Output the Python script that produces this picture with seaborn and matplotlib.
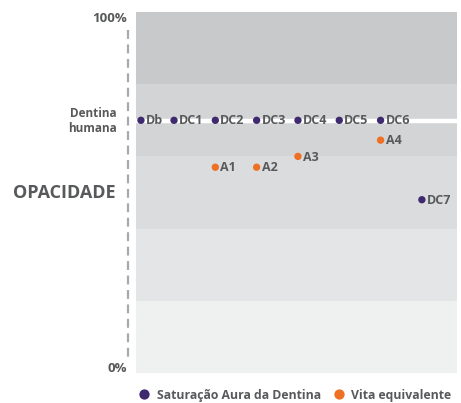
import numpy as np
import pandas as pd
import matplotlib
matplotlib.use("Agg")
import matplotlib.pyplot as plt
from matplotlib.lines import Line2D
import seaborn as sns

# ==========================================================
# DATA
# ==========================================================

aura_names = ["Db", "DC1", "DC2", "DC3", "DC4", "DC5", "DC6", "DC7"]
aura_pos = [0.2, 1, 2, 3, 4, 5, 6, 7]
aura_opacity = [70, 70, 70, 70, 70, 70, 70, 48]

vita_names = ["A1", "A2", "A3", "A4"]
vita_pos = [2, 3, 4, 6]
vita_opacity = [57, 57, 60, 64.5]

series_names = ["Saturação Aura da Dentina", "Vita equivalente"]
human_dentin = 70

band_edges = [0, 20, 40, 60, 80, 100]
band_colors = ["#eff0f0", "#e4e5e6", "#dbdcde", "#d3d4d6", "#c8c9cb"]

PURPLE = "#3f2a70"
ORANGE = "#ef7024"
TEXT = "#58595b"

df = pd.DataFrame({
    "pos": aura_pos + vita_pos,
    "opacity": aura_opacity + vita_opacity,
    "name": aura_names + vita_names,
    "serie": [series_names[0]] * len(aura_names) + [series_names[1]] * len(vita_names),
})

# ==========================================================
# FIGURE
# ==========================================================

sns.set_style("white")
plt.rcParams["font.family"] = ["Open Sans", "DejaVu Sans"]

fig = plt.figure(figsize=(4.61, 4.03), dpi=100)
W, H = 461, 403
ax = fig.add_axes([136 / W, 30 / H, 321 / W, 361 / H])

# background bands
for i, c in enumerate(band_colors):
    ax.axhspan(band_edges[i], band_edges[i + 1], color=c, lw=0, zorder=0)

# human dentin reference line
ax.axhline(human_dentin - 0.3, color="white", lw=3.2, zorder=1)

sns.scatterplot(
    data=df, x="pos", y="opacity", hue="serie",
    palette=[PURPLE, ORANGE], s=28, linewidth=0, ax=ax, zorder=3,
)

for _, row in df.iterrows():
    ax.annotate(row["name"], (row["pos"], row["opacity"]),
                xytext=(3.6, -0.5), textcoords="offset points",
                va="center", ha="left", fontsize=9, fontweight="bold",
                color=TEXT, zorder=4)

ax.set_xlim(0.08, 7.85)
ax.set_ylim(0, 100)
ax.set_xticks([])
ax.set_yticks([])
ax.set_xlabel("")
ax.set_ylabel("")
for s in ax.spines.values():
    s.set_visible(False)

# ==========================================================
# SIDE LABELS
# ==========================================================

fig.text(127 / W, 1 - 19 / H, "100%", ha="right", va="center",
         fontsize=9.5, fontweight="bold", color=TEXT)
fig.text(127 / W, 1 - 369 / H, "0%", ha="right", va="center",
         fontsize=9.5, fontweight="bold", color=TEXT)
fig.text(117 / W, 1 - 121 / H, "Dentina\nhumana", ha="right", va="center",
         fontsize=8.5, fontweight="bold", color=TEXT, linespacing=1.15)
fig.text(116 / W, 1 - 193 / H, "OPACIDADE", ha="right", va="center",
         fontsize=13, fontweight="bold", color=TEXT)

fig.add_artist(Line2D([128 / W, 128 / W], [1 - 30 / H, 1 - 362 / H],
                      transform=fig.transFigure, color="#a7a9ac",
                      lw=1.6, dashes=(4, 2.5)))

# ==========================================================
# LEGEND
# ==========================================================

handles, labels = ax.get_legend_handles_labels()
ax.legend(handles, labels, loc="center", bbox_to_anchor=(293 / W, 1 - 395 / H),
          bbox_transform=fig.transFigure, ncol=2, frameon=False,
          markerscale=1.4, handletextpad=0.2, columnspacing=0.7,
          handlelength=1.6, prop={"weight": "bold", "size": 8.8},
          labelcolor=TEXT)

plt.savefig("out.png", dpi=100)
